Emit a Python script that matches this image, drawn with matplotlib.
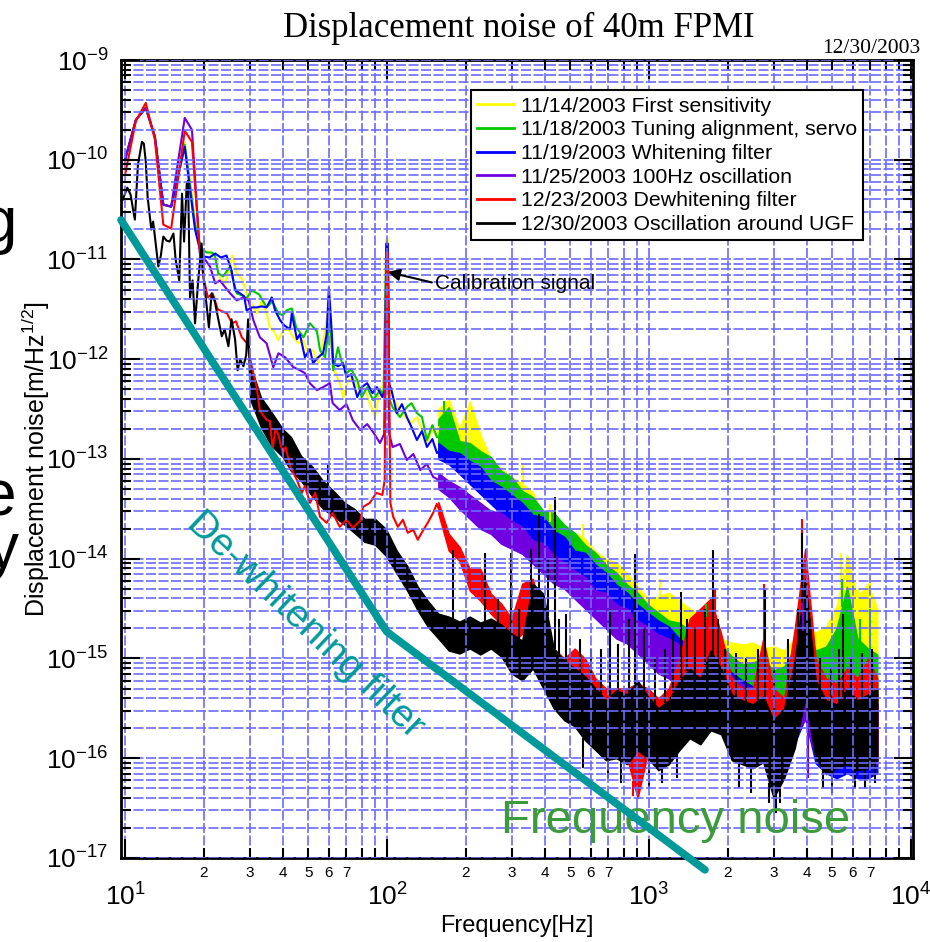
import numpy as np
import matplotlib
matplotlib.use('Agg')
import matplotlib.pyplot as plt
from matplotlib.ticker import LogLocator, FuncFormatter, NullFormatter

plt.rcParams['font.family'] = ['Liberation Sans', 'DejaVu Sans']
plt.rcParams['mathtext.default'] = 'regular'

# all noise values are log10 of displacement noise [m/rtHz]
labels = ['11/14/2003 First sensitivity', '11/18/2003 Tuning alignment, servo',
          '11/19/2003 Whitening filter', '11/25/2003 100Hz oscillation',
          '12/23/2003 Dewhitening filter', '12/30/2003 Oscillation around UGF']
colors = ['#ffff00', '#00c800', '#0000ff', '#7000e0', '#ff0000', '#000000']

# low frequency peak shared by the first four traces
shared_low_f = [10, 11, 12, 13, 14, 15]
shared_low = [-10.0, -9.6, -9.48, -9.77, -10.45, -10.47]

yellow_lf_f = [16.9, 17.7, 18.5, 19.0, 19.6, 21.1, 22.1, 23.0, 24.1, 25.2,
               25.7, 26.7, 28.0, 29.1, 30.4, 31.8, 33.2, 34.7, 35.7, 37.0,
               38.5, 40.2, 42.0, 43.9, 45.9, 47.9, 50.0, 52.3, 54.7, 57.0,
               60.0, 61.5, 63.0, 66.0, 68.0, 71.0, 74.0, 77.6, 81.0, 85.0,
               90.0, 94.0, 97.0, 99.3, 100.7, 102.0, 105.0, 112.0, 117.0, 124.0,
               130.0, 136.0, 142.0, 149.0, 155.0, 157.0]
yellow_lf = [-9.83, -10.2, -10.6, -10.8, -10.9, -10.93, -11.0, -11.18, -11.24, -11.07,
             -10.96, -11.14, -11.2, -11.34, -11.44, -11.54, -11.42, -11.54, -11.68, -11.72,
             -11.81, -11.71, -11.7, -11.78, -11.84, -11.81, -11.94, -11.91, -12.04, -11.82,
             -11.45, -11.9, -12.11, -12.24, -12.38, -12.22, -12.18, -12.3, -12.28, -12.4,
             -12.58, -12.28, -12.35, -10.8, -10.8, -12.3, -12.38, -12.51, -12.58, -12.64,
             -12.58, -12.71, -12.84, -12.7, -12.78, -12.68]

green_lf_f = [16.9, 17.7, 18.5, 19.6, 20.5, 21.4, 22.0, 22.7, 23.7, 24.4,
              25.2, 25.9, 26.7, 28.0, 29.1, 30.4, 32.5, 34.7, 36.5, 38.5,
              40.0, 41.4, 43.3, 45.0, 48.0, 50.8, 54.0, 55.5, 58.0, 60.6,
              62.3, 65.0, 67.0, 70.0, 73.0, 77.0, 80.0, 84.0, 88.5, 94.0,
              97.0, 99.3, 100.7, 102.0, 105.0, 112.0, 119.0, 124.0, 130.0, 136.0,
              142.0, 149.0, 155.0, 157.0]
green_lf = [-9.85, -10.25, -10.65, -10.9, -10.93, -10.93, -10.95, -11.14, -11.17, -11.12,
            -11.07, -11.21, -11.34, -11.36, -11.39, -11.31, -11.35, -11.48, -11.42, -11.54,
            -11.56, -11.51, -11.49, -11.68, -11.78, -11.64, -11.72, -11.91, -11.98, -11.6,
            -12.11, -11.88, -12.02, -12.14, -12.1, -12.21, -12.38, -12.28, -12.41, -12.31,
            -12.35, -10.9, -10.9, -12.4, -12.48, -12.58, -12.48, -12.44, -12.54, -12.58,
            -12.81, -12.66, -12.78, -12.78]

blue_lf_f = [16.9, 17.7, 18.5, 19.3, 20.0, 21.0, 22.1, 23.2, 24.4, 25.5,
             26.3, 27.5, 28.5, 29.1, 30.5, 31.8, 33.2, 34.7, 36.3, 37.4,
             39.1, 40.5, 42.6, 43.3, 45.3, 46.5, 48.6, 50.8, 52.2, 54.6,
             57.0, 58.8, 60.0, 61.6, 62.3, 65.0, 68.0, 70.0, 73.0, 77.0,
             80.0, 84.0, 88.0, 91.5, 96.0, 98.5, 99.3, 100.7, 102.0, 104.0,
             109.0, 114.0, 119.0, 124.0, 130.0, 136.0, 142.0, 149.0, 155.0, 157.0]
blue_lf = [-9.87, -10.3, -10.7, -10.9, -10.97, -10.98, -10.94, -10.98, -10.96, -11.11,
           -11.31, -11.34, -11.37, -11.51, -11.48, -11.48, -11.47, -11.48, -11.38, -11.51,
           -11.61, -11.66, -11.7, -11.54, -11.8, -11.75, -11.98, -11.9, -12.04, -11.98,
           -11.94, -11.75, -11.28, -11.75, -12.04, -12.07, -12.04, -12.18, -12.15, -12.38,
           -12.28, -12.24, -12.34, -12.28, -12.38, -12.3, -10.84, -10.84, -12.25, -12.31,
           -12.54, -12.45, -12.58, -12.68, -12.81, -12.72, -12.88, -12.8, -12.94, -12.93]

purple_lf_f = [16.9, 18.0, 19.3, 21.1, 22.1, 23.0, 25.2, 26.7, 28.3, 29.6,
               30.9, 32.7, 34.7, 36.8, 38.5, 40.8, 43.9, 46.5, 48.6, 50.7,
               54.0, 57.0, 60.5, 62.0, 66.0, 70.0, 74.0, 79.0, 84.0, 89.0,
               94.0, 97.5, 99.3, 100.7, 102.0, 105.0, 112.0, 119.0, 126.0, 134.0,
               142.0, 150.0, 155.0, 157.0]
purple_lf = [-9.58, -9.7, -10.93, -11.07, -11.24, -11.21, -11.34, -11.41, -11.38, -11.41,
             -11.61, -11.78, -11.84, -12.08, -11.94, -11.98, -12.08, -12.11, -12.14, -12.24,
             -12.31, -12.28, -12.24, -12.44, -12.51, -12.45, -12.61, -12.71, -12.65, -12.74,
             -12.84, -12.75, -11.1, -11.1, -12.75, -12.88, -12.85, -13.01, -12.95, -13.11,
             -13.05, -13.18, -13.2, -13.22]

red_lf_f = [10.0, 11.0, 12.0, 13.0, 14.0, 15.0, 16.9, 18.0, 19.3, 20.0,
            20.7, 21.6, 22.6, 24.5, 25.6, 26.5, 27.9, 29.2, 30.5, 31.8,
            32.7, 33.6, 34.8, 35.7, 36.6, 37.5, 38.4, 40.0, 41.0, 42.7,
            45.3, 47.3, 48.6, 50.8, 53.2, 55.5, 58.8, 62.0, 66.0, 70.0,
            74.0, 79.0, 81.0, 86.0, 91.0, 96.0, 98.0, 99.3, 100.7, 103.0,
            105.6, 110.0, 115.0, 120.0, 126.0, 131.0, 137.0, 143.0, 150.0, 155.0,
            157.0]
red_lf = [-10.15, -9.61, -9.43, -9.8, -10.65, -10.69, -9.71, -9.82, -10.93, -11.2,
          -11.38, -11.34, -11.5, -11.54, -11.64, -11.62, -11.78, -11.84, -12.08, -12.28,
          -12.51, -12.56, -12.61, -12.62, -12.9, -12.7, -12.75, -12.94, -12.88, -13.08,
          -13.21, -13.34, -13.27, -13.44, -13.34, -13.58, -13.64, -13.54, -13.68, -13.61,
          -13.69, -13.62, -13.48, -13.44, -13.34, -13.36, -13.21, -10.93, -10.93, -13.44,
          -13.58, -13.68, -13.61, -13.74, -13.71, -13.81, -13.72, -13.64, -13.54, -13.45,
          -13.49]

black_lf_f = [9.8, 10.2, 10.5, 10.7, 10.9, 11.2, 11.6, 11.8, 12.0, 12.2,
              12.6, 12.8, 13.0, 13.4, 13.7, 14.0, 14.4, 14.8, 15.3, 15.6,
              16.1, 16.5, 16.8, 17.2, 17.4, 17.7, 18.1, 18.5, 19.0, 19.6,
              20.0, 20.5, 20.9, 21.4, 22.0, 22.7, 23.4, 24.0, 24.8, 25.5,
              26.3, 26.9, 27.5, 28.3, 29.0, 29.5, 30.0]
black_lf = [-10.4, -10.28, -10.35, -10.48, -10.6, -10.05, -9.82, -9.84, -10.02, -10.38,
            -10.7, -10.62, -10.77, -11.07, -10.96, -10.77, -10.81, -10.82, -10.74, -11.0,
            -11.21, -10.34, -10.82, -10.24, -10.21, -11.38, -11.21, -11.64, -11.23, -10.84,
            -11.22, -11.47, -11.68, -11.34, -11.42, -11.6, -11.77, -11.7, -11.87, -11.6,
            -11.8, -12.11, -12.0, -12.07, -11.96, -11.6, -12.22]

# dense (noisy) part: upper / lower edge of each trace
freq_band = [30, 33, 36, 40, 43, 47, 52, 57, 63, 69,
             75, 82, 90, 99, 109, 120, 131, 143, 157, 172,
             189, 207, 227, 249, 273, 299, 328, 360, 395, 433,
             475, 520, 570, 625, 685, 750, 825, 905, 990, 1085,
             1190, 1305, 1430, 1570, 1720, 1885, 2070, 2270, 2490, 2730,
             2990, 3280, 3600, 3945, 4325, 4745, 5200, 5700, 6250, 6855,
             7440]

black_hi = [-12.05, -12.38, -12.52, -12.7, -12.78, -12.97, -13.08, -13.22, -13.33, -13.44,
            -13.5, -13.6, -13.6, -13.7, -13.92, -14.08, -14.28, -14.42, -14.55, -14.58,
            -14.63, -14.58, -14.64, -14.6, -14.66, -14.75, -14.82, -14.25, -14.35, -14.9,
            -15.02, -15.1, -15.18, -15.3, -15.42, -15.32, -15.36, -15.22, -15.38, -15.5,
            -15.42, -15.22, -15.1, -15.2, -14.92, -15.1, -15.36, -15.42, -15.46, -15.38,
            -15.62, -15.5, -15.02, -14.2, -15.22, -15.42, -15.46, -15.3, -15.42, -15.36,
            -15.3]
black_lo = [-12.4, -12.68, -12.86, -12.98, -13.12, -13.22, -13.38, -13.5, -13.58, -13.66,
            -13.74, -13.83, -13.86, -13.97, -14.15, -14.33, -14.52, -14.68, -14.8, -14.92,
            -14.95, -14.9, -14.96, -14.9, -14.98, -15.15, -15.22, -15.1, -15.3, -15.5,
            -15.62, -15.68, -15.82, -15.92, -16.02, -16.0, -16.06, -15.92, -16.0, -16.12,
            -16.06, -15.92, -15.8, -15.86, -15.72, -15.76, -16.02, -16.06, -16.1, -16.04,
            -16.4, -16.2, -15.9, -15.4, -16.0, -16.16, -16.1, -16.06, -16.12, -16.1,
            -16.02]

# the other traces use freq_band from 157 Hz on
yellow_hi = [-12.5, -12.4, -12.7, -12.42, -12.75, -13.0, -13.1, -13.18, -13.25, -13.33,
             -13.6, -13.64, -13.7, -13.74, -13.8, -13.93, -14.0, -14.04, -14.15, -14.28,
             -14.4, -14.38, -14.34, -14.42, -14.5, -14.55, -14.68, -14.8, -14.84, -14.86,
             -14.84, -14.9, -14.88, -14.92, -14.8, -14.7, -14.74, -14.68, -14.48, -13.96,
             -14.38, -14.25, -14.5]
yellow_lo = [-12.85, -12.9, -13.0, -12.95, -13.1, -13.3, -13.36, -13.45, -13.5, -13.6,
             -13.86, -13.95, -14.0, -14.06, -14.1, -14.25, -14.3, -14.36, -14.4, -14.6,
             -14.66, -14.75, -14.8, -14.86, -14.9, -15.0, -15.05, -15.14, -15.2, -15.2,
             -15.26, -15.25, -15.3, -15.3, -15.26, -15.2, -15.2, -15.16, -15.0, -14.6,
             -15.0, -14.95, -15.0]
green_hi = [-12.6, -12.48, -12.82, -12.84, -12.92, -12.98, -13.12, -13.18, -13.32, -13.38,
            -13.52, -13.54, -13.66, -13.74, -13.86, -13.94, -14.06, -14.14, -14.26, -14.34,
            -14.46, -14.54, -14.62, -14.64, -14.72, -14.6, -14.58, -14.86, -14.98, -15.06,
            -15.04, -15.0, -15.12, -15.08, -14.9, -14.6, -14.92, -14.88, -14.7, -14.28,
            -14.8, -14.9, -14.96]
green_lo = [-12.95, -12.96, -13.05, -13.1, -13.16, -13.3, -13.4, -13.5, -13.6, -13.7,
            -13.8, -13.9, -14.0, -14.1, -14.2, -14.3, -14.4, -14.5, -14.55, -14.7,
            -14.8, -14.9, -14.95, -15.0, -15.1, -15.1, -15.15, -15.3, -15.4, -15.45,
            -15.5, -15.5, -15.6, -15.6, -15.5, -15.4, -15.5, -15.45, -15.4, -15.2,
            -15.45, -15.5, -15.5]
blue_hi = [-12.84, -12.92, -12.94, -13.02, -13.08, -13.22, -13.28, -13.36, -13.44, -13.56,
           -13.58, -13.72, -13.78, -13.92, -13.94, -14.06, -14.14, -14.26, -14.34, -14.46,
           -14.54, -14.62, -14.68, -14.8, -14.88, -15.0, -14.98, -15.06, -15.14, -15.22,
           -15.28, -15.36, -15.5, -15.48, -15.2, -14.7, -15.3, -15.44, -15.5, -15.4,
           -15.52, -15.48, -15.46]
blue_lo = [-13.0, -13.05, -13.15, -13.25, -13.35, -13.45, -13.55, -13.65, -13.75, -13.85,
           -13.95, -14.05, -14.15, -14.2, -14.3, -14.4, -14.45, -14.55, -14.65, -14.75,
           -14.85, -14.95, -15.05, -15.2, -15.3, -15.4, -15.45, -15.55, -15.65, -15.75,
           -15.85, -15.9, -16.1, -16.05, -15.85, -15.6, -16.05, -16.15, -16.2, -16.15,
           -16.2, -16.2, -16.15]
purple_hi = [-13.14, -13.22, -13.28, -13.36, -13.44, -13.52, -13.54, -13.62, -13.68, -13.82,
             -13.84, -13.96, -14.04, -14.12, -14.18, -14.32, -14.34, -14.46, -14.5, -14.62,
             -14.68, -14.76, -14.8, -14.86, -14.94, -15.02, -14.98, -15.12, -15.18, -15.26,
             -15.3, -15.36, -15.5, -15.48, -15.2, -14.6, -15.34, -15.46, -15.5, -15.44,
             -15.52, -15.44, -15.46]
purple_lo = [-13.3, -13.38, -13.5, -13.6, -13.7, -13.75, -13.85, -13.9, -13.95, -14.05,
             -14.15, -14.25, -14.3, -14.4, -14.5, -14.6, -14.7, -14.8, -14.85, -14.95,
             -15.05, -15.15, -15.2, -15.3, -15.4, -15.5, -15.55, -15.6, -15.7, -15.8,
             -15.85, -15.9, -16.1, -16.05, -15.8, -15.6, -16.0, -16.05, -16.1, -16.05,
             -16.1, -16.1, -16.05]
red_hi = [-13.43, -13.75, -13.88, -14.1, -14.1, -14.35, -14.45, -14.6, -14.25, -14.2,
          -14.6, -14.9, -15.0, -14.9, -15.0, -15.2, -15.3, -15.3, -15.3, -15.25,
          -15.3, -15.4, -15.3, -15.0, -14.6, -14.5, -14.4, -14.75, -15.2, -15.3,
          -15.3, -14.8, -15.3, -15.4, -14.7, -13.9, -15.0, -15.2, -15.25, -15.1,
          -15.2, -15.0, -15.2]
red_lo = [-13.55, -13.92, -14.02, -14.32, -14.42, -14.55, -14.66, -14.86, -14.75, -14.9,
          -15.2, -15.4, -15.5, -15.5, -15.6, -15.8, -15.9, -15.95, -16.0, -16.4,
          -15.95, -16.0, -15.95, -15.8, -15.6, -15.5, -15.4, -15.6, -15.9, -16.0,
          -16.0, -15.8, -16.2, -16.1, -15.7, -15.0, -15.9, -16.0, -16.0, -15.9,
          -16.0, -15.9, -16.0]

# narrow lines sticking out of the noise (up or down)
yellow_spike_f = [330, 420, 560, 900, 1100, 5400, 6300, 6950]
yellow_spike = [-13.05, -13.45, -13.65, -14.1, -14.2, -13.94, -14.3, -14.2]
green_spike_f = [165, 1650, 5450, 6400, 7000]
green_spike = [-12.42, -14.45, -14.2, -14.6, -14.5]
purple_spike_f = [3870, 4050]
purple_spike = [-14.4, -16.2]
red_spike_f = [1780, 2760, 3850, 870]
red_spike = [-14.3, -14.25, -13.6, -16.38]
black_spike_f = [59.5, 179, 237, 297, 354, 382, 436, 482, 710, 885,
                 1325, 1760, 2770, 3840, 5500, 265, 320, 410, 455, 545,
                 600, 655, 760, 840, 960, 1050, 1150, 1240, 1400, 1500,
                 1640, 1830, 1950, 2150, 2350, 2600, 3000, 3400, 3700, 4100,
                 4500, 4950, 5300, 5900, 6500, 7100, 560, 700, 780, 1000,
                 1120, 1280, 2200, 2450, 2880, 3050, 3150, 4600, 5000, 6100,
                 6700, 7300]
black_spike = [-13.06, -13.91, -13.94, -13.94, -13.9, -13.55, -13.38, -14.55, -14.5, -13.95,
               -14.33, -13.91, -14.31, -13.74, -14.55, -14.4, -14.5, -14.0, -14.6, -14.8,
               -14.9, -14.9, -14.85, -14.6, -14.7, -15.0, -14.9, -14.75, -14.6, -14.7,
               -14.5, -14.6, -14.9, -14.95, -15.0, -14.9, -15.1, -14.8, -14.5, -14.6,
               -15.0, -15.1, -14.9, -15.0, -14.95, -14.9, -16.1, -16.2, -16.25, -16.3,
               -16.25, -16.2, -16.3, -16.35, -16.45, -16.55, -16.45, -16.3, -16.35, -16.3,
               -16.3, -16.25]

# de-whitening filter line
filter_f = [9.65, 99.7, 1636]
filter_v = [2.49e-11, 1.86e-15, 7.6e-18]

fig = plt.figure(figsize=(9.3, 9.42), dpi=100)
ax = fig.add_axes([0.1301, 0.0892, 0.8516, 0.8471])
ax.set_xscale('log')
ax.set_yscale('log')

fb = np.array(freq_band, dtype=float)
traces = [
    (shared_low_f + yellow_lf_f, shared_low + yellow_lf, yellow_hi, yellow_lo, yellow_spike_f, yellow_spike),
    (shared_low_f + green_lf_f, shared_low + green_lf, green_hi, green_lo, green_spike_f, green_spike),
    (shared_low_f + blue_lf_f, shared_low + blue_lf, blue_hi, blue_lo, [], []),
    (shared_low_f + purple_lf_f, shared_low + purple_lf, purple_hi, purple_lo, purple_spike_f, purple_spike),
    (red_lf_f, red_lf, red_hi, red_lo, red_spike_f, red_spike),
    (black_lf_f, black_lf, black_hi, black_lo, black_spike_f, black_spike),
]
for (lf_f, lf_v, hi, lo, sf, sv), c, lab in zip(traces, colors, labels):
    bf = fb[len(fb) - len(hi):]
    ax.fill_between(bf, 10.0 ** np.array(lo), 10.0 ** np.array(hi), color=c, lw=1.0)
    ax.plot(lf_f, 10.0 ** np.array(lf_v), color=c, lw=1.5, label=lab)
    if len(sf):
        sf = np.array(sf, dtype=float)
        sv = np.array(sv)
        top = np.interp(np.log10(sf), np.log10(bf), hi)
        bot = np.interp(np.log10(sf), np.log10(bf), lo)
        base = np.where(sv > top, top, bot)
        ax.vlines(sf, 10.0 ** base, 10.0 ** sv, color=c, lw=1.5)

ax.plot(filter_f, filter_v, color='#009999', lw=5.5, solid_capstyle='round',
        clip_on=False, zorder=4)

ax.set_xlim(9.65, 10180)
ax.set_ylim(1e-17, 1e-9)

ax.xaxis.set_major_locator(LogLocator(base=10, numticks=20))
ax.xaxis.set_minor_locator(LogLocator(base=10, subs=np.arange(2, 10), numticks=50))
ax.yaxis.set_major_locator(LogLocator(base=10, numticks=20))
ax.yaxis.set_minor_locator(LogLocator(base=10, subs=np.arange(2, 10), numticks=50))


def major_fmt(v, pos):
    return r'$10^{%d}$' % round(np.log10(v))


def minor_fmt(v, pos):
    m = int(round(v / 10 ** np.floor(np.log10(v) + 1e-9)))
    return str(m) if 2 <= m <= 7 else ''


ax.xaxis.set_major_formatter(FuncFormatter(major_fmt))
ax.yaxis.set_major_formatter(FuncFormatter(major_fmt))
ax.xaxis.set_minor_formatter(FuncFormatter(minor_fmt))
ax.yaxis.set_minor_formatter(NullFormatter())

ax.tick_params(which='both', direction='in', top=True, right=True, width=1.5)
ax.tick_params(which='major', length=14)
ax.tick_params(which='minor', length=7)
ax.tick_params(axis='x', which='major', pad=18, labelsize=19)
ax.tick_params(axis='x', which='minor', pad=6, labelsize=11)
ax.tick_params(axis='y', which='major', pad=9, labelsize=19)
for s in ax.spines.values():
    s.set_linewidth(2)

ax.grid(True, which='both', color='#6b6bff', linestyle=(0, (6, 1.5)), linewidth=1.2)
ax.set_axisbelow(False)

ax.set_xlabel('Frequency[Hz]', fontsize=17)
ax.xaxis.label.set_verticalalignment('baseline')
ax.xaxis.set_label_coords(0.5, -0.093)
ax.set_ylabel('Displacement noise[m/Hz$^{1/2}$]', fontsize=18)
ax.yaxis.label.set_verticalalignment('center')
ax.yaxis.set_label_coords(-0.107, 0.5)

leg = ax.legend(loc='upper left', bbox_to_anchor=(0.442, 0.962), borderaxespad=0,
                fontsize=15.3, fancybox=False, edgecolor='black', framealpha=1,
                handlelength=1.7, handletextpad=0.33, borderpad=0.3, labelspacing=0.22)
leg.get_frame().set_linewidth(1.5)
for h in leg.get_lines():
    h.set_linewidth(2)

ax.annotate('Calibration signal', xy=(100.6, 7.5e-12), xytext=(152, 5.8e-12),
            fontsize=15, ha='left', va='center',
            arrowprops=dict(arrowstyle='-|>', color='black', lw=1.5, mutation_scale=18,
                            shrinkA=0, shrinkB=0, relpos=(0, 0.5)))

ax.text(48.9, 2.17e-15, 'De-whitening filter', rotation=-43.5, rotation_mode='anchor',
        ha='center', va='center', fontsize=28, color='#009999', zorder=3.5)
ax.text(1268, 1.78e-17, 'Frequency noise', ha='center', va='baseline', fontsize=34,
        color='#3c9c3c', zorder=3.5)

fig.text(0.558, 0.9607, 'Displacement noise of 40m FPMI', family='Liberation Serif',
         fontsize=25, ha='center', va='baseline')
fig.text(0.9892, 0.9437, '12/30/2003', family='Liberation Serif', fontsize=15.5,
         ha='right', va='baseline')

# letters of neighbouring slide text cut by the left edge
fig.text(17 / 930, 1 - 242 / 942, 'g', fontsize=46, ha='right', va='baseline')
fig.text(16 / 930, 1 - 515 / 942, 'e', fontsize=46, ha='right', va='baseline')
fig.text(19 / 930, 1 - 568 / 942, 'y', fontsize=46, ha='right', va='baseline')

fig.savefig('out.png', dpi=100)
